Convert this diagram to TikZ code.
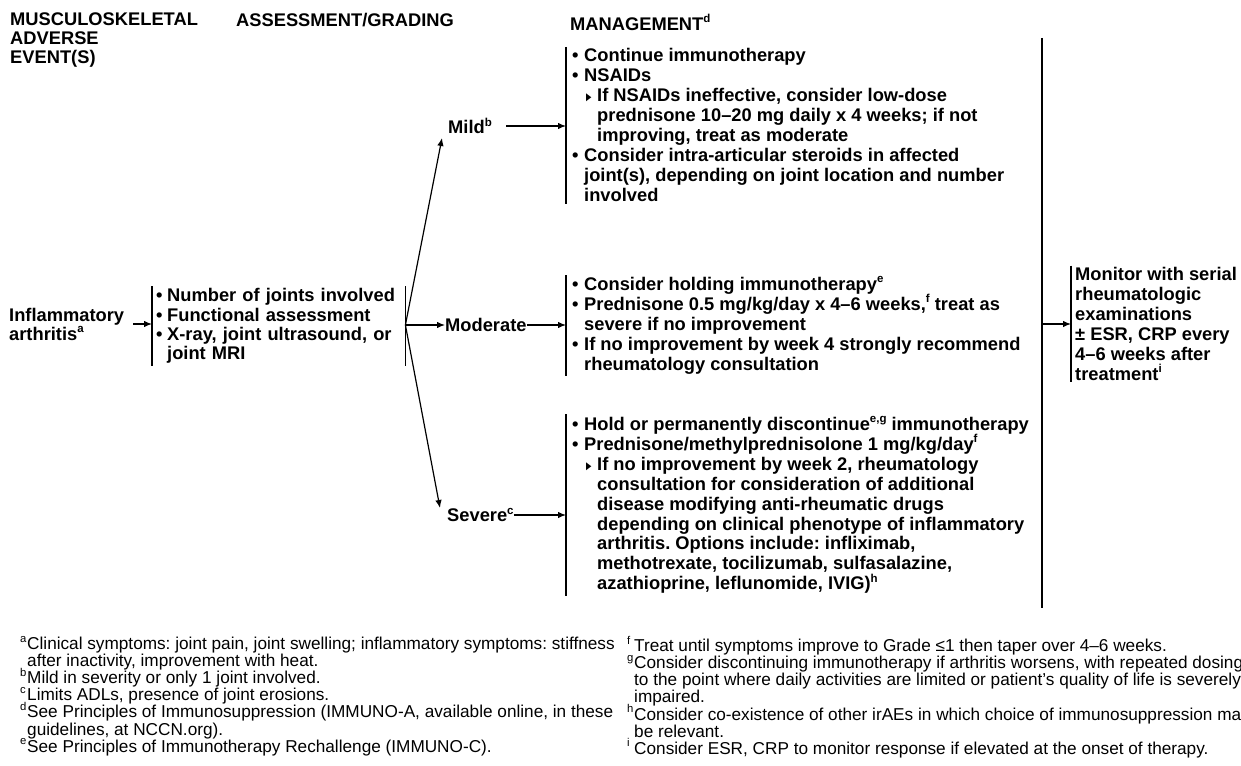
\documentclass[tikz,border=0pt]{standalone}
\usepackage{fontspec}
\setmainfont{Liberation Sans}
\newfontfamily\symfont{DejaVu Sans}
\usetikzlibrary{arrows.meta}
\frenchspacing

% superscript footnote marks in the chart
\newcommand\supx[1]{\raisebox{0.42em}{\fontsize{11.5}{11.5}\selectfont #1}}
% bullet, sub-bullet and hanging indents
\newcommand\bl{\makebox[12pt][l]{•}}
\newcommand\tri{\hspace*{14pt}\makebox[11pt][l]{\raisebox{1.2pt}{\scalebox{0.7}[1.05]{\symfont\fontsize{10}{10}\selectfont ▶}}}}
\newcommand\inda{\hspace*{12pt}}
\newcommand\indb{\hspace*{25pt}}
% footnote marks and hanging indent
\newcommand\fnm[1]{\makebox[7pt][l]{\raisebox{0.42em}{\fontsize{11.3}{11.3}\selectfont #1}}}
\newcommand\fni{\hspace*{7pt}}
% fixed line pitch even where raised marks stick up
\newcommand\tightlines{\lineskiplimit=-20pt\relax\lineskip=0pt\relax}

\begin{document}
\begin{tikzpicture}[x=1pt,y=-1pt,
  body/.style={font=\bfseries\fontsize{18.3}{20}\selectfont, align=left, inner sep=0pt},
  box/.style={body, inner xsep=6pt, inner ysep=1.5pt},
  foot/.style={font=\fontsize{17.2}{17.1}\selectfont\tightlines,
               align=left, inner sep=0pt, anchor=north west},
  bar/.style={line width=1.3pt},
  arr/.style={line width=1.2pt, -{Latex[length=8pt,width=6.5pt]}}]
\useasboundingbox (0,0) rectangle (1241,765);
\clip (0,0) rectangle (1241,765);

% column headings
\node[body, anchor=north west, font=\bfseries\fontsize{18.3}{18.8}\selectfont] (hdrevent) at (10,13)
  {MUSCULOSKELETAL\\ADVERSE\\EVENT(S)};
\node[body, anchor=north west] (hdrgrade) at (236,13) {ASSESSMENT/GRADING};
\node[body, anchor=north west] (hdrmgmt) at (570,14) {MANAGEMENT\supx{d}};

% event and assessment
\node[body, anchor=west, font=\bfseries\fontsize{18.3}{19}\selectfont] (event) at (9,324)
  {Inflammatory\\arthritis\supx{a}};
\node[body, anchor=west, inner xsep=4pt, inner ysep=2pt, text width=245pt,
      font=\bfseries\fontsize{18.3}{19.3}\selectfont] (assess) at (152,326)
  {\makebox[11pt][l]{•}Number of joints involved\\
   \makebox[11pt][l]{•}Functional assessment\\
   \makebox[11pt][l]{•}X-ray, joint ultrasound, or\\
   \hspace*{11pt}joint MRI};
\draw[bar] (assess.north west) -- (assess.south west);
\draw[line width=1.8pt] (assess.north east) -- (assess.south east);
\draw[arr] (event.east) ++(9,0) coordinate (eventout) -- (eventout -| assess.west);

% grades
\node[body, anchor=west] (mild) at (448,126) {Mild\supx{b}};
\node[body, anchor=west] (moderate) at (445,325) {Moderate};
\node[body, anchor=west] (severe) at (447,515) {Severe\supx{c}};
\coordinate (mildtip) at (442,138);
\coordinate (severetip) at (440,508);
\draw[arr] (assess.east |- moderate.west) -- (mildtip);
\draw[arr] (assess.east |- moderate.west) -- (severetip);
\draw[arr] (assess.east |- moderate.west) -- (moderate.west);

% management
\node[box, anchor=north west] (mildbox) at (566,47)
  {\bl Continue immunotherapy\\
   \bl NSAIDs\\
   \tri If NSAIDs ineffective, consider low-dose\\
   \indb prednisone 10–20 mg daily x 4 weeks; if not\\
   \indb improving, treat as moderate\\
   \bl Consider intra-articular steroids in affected\\
   \inda joint(s), depending on joint location and number\\
   \inda involved};
\node[box, anchor=north west] (modbox) at (566,275)
  {\bl Consider holding immunotherapy\supx{e}\\
   \bl Prednisone 0.5 mg/kg/day x 4–6 weeks,\supx{f} treat as\\
   \inda severe if no improvement\\
   \bl If no improvement by week 4 strongly recommend\\
   \inda rheumatology consultation};
\node[box, anchor=north west, inner ysep=2.5pt, font=\bfseries\fontsize{18.3}{19.9}\selectfont] (sevbox) at (566,414)
  {\bl Hold or permanently discontinue\supx{e,g} immunotherapy\\
   \bl Prednisone/methylprednisolone 1 mg/kg/day\supx{f}\\
   \tri If no improvement by week 2, rheumatology\\
   \indb consultation for consideration of additional\\
   \indb disease modifying anti-rheumatic drugs\\
   \indb depending on clinical phenotype of inflammatory\\
   \indb arthritis. Options include: infliximab,\\
   \indb methotrexate, tocilizumab, sulfasalazine,\\
   \indb azathioprine, leflunomide, IVIG)\supx{h}};
\foreach \b in {mildbox,modbox,sevbox}
  \draw[bar] (\b.north west) -- (\b.south west);

\draw[arr] (mild.east) ++(14,0) coordinate (mildout) -- (mildout -| mildbox.west);
\draw[arr] (moderate.east) -- (moderate.east -| modbox.west);
\draw[arr] (severe.east) -- (severe.east -| sevbox.west);

% follow-up
\coordinate (jointop) at (1042,38);
\coordinate (joinbot) at (1042,608);
\draw[line width=1.2pt] (jointop) -- (joinbot);
\node[box, anchor=west, inner xsep=4pt] (monitor) at (1071,324)
  {Monitor with serial\\
   rheumatologic\\
   examinations\\
   ± ESR, CRP every\\
   4–6 weeks after\\
   treatment\supx{i}};
\draw[bar] (monitor.north west) -- (monitor.south west);
\draw[arr] (jointop |- monitor.west) -- (monitor.west);

% footnotes
\node[foot] (notesleft) at (20,636)
  {\fnm{a}Clinical symptoms: joint pain, joint swelling; inflammatory symptoms: stiffness\\
   \fni after inactivity, improvement with heat.\\
   \fnm{b}Mild in severity or only 1 joint involved.\\
   \fnm{c}Limits ADLs, presence of joint erosions.\\
   \fnm{d}See Principles of Immunosuppression (IMMUNO-A, available online, in these\\
   \fni guidelines, at NCCN.org).\\
   \fnm{e}See Principles of Immunotherapy Rechallenge (IMMUNO-C).};
\node[foot] (notesright) at (627,636)
  {\fnm{f}Treat until symptoms improve to Grade ≤1 then taper over 4–6 weeks.\\
   \fnm{g}Consider discontinuing immunotherapy if arthritis worsens, with repeated dosing\\
   \fni to the point where daily activities are limited or patient’s quality of life is severely\\
   \fni impaired.\\
   \fnm{h}Consider co-existence of other irAEs in which choice of immunosuppression may\\
   \fni be relevant.\\
   \fnm{i}Consider ESR, CRP to monitor response if elevated at the onset of therapy.};
\end{tikzpicture}
\end{document}
